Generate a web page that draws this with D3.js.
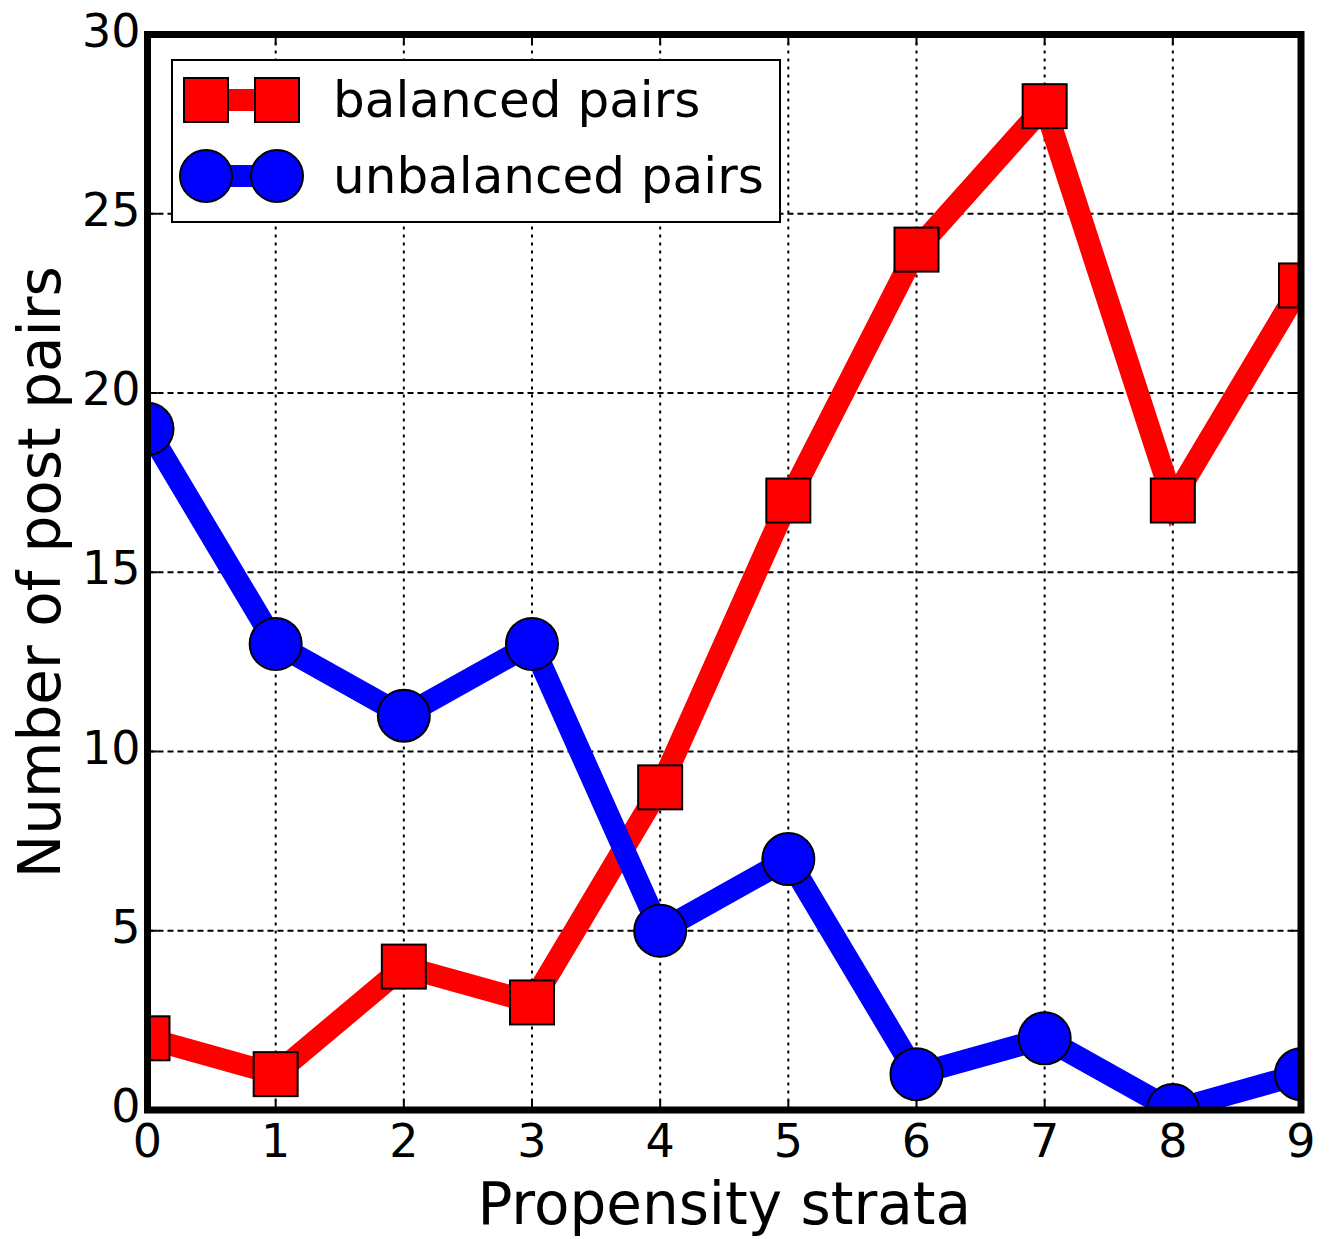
<!DOCTYPE html>
<html>
<head>
<meta charset="utf-8">
<script src="https://cdn.jsdelivr.net/npm/d3@7"></script>
<style>
html,body{margin:0;padding:0;background:#fff;}
svg text{font-family:"DejaVu Sans",sans-serif;fill:#000;}
</style>
</head>
<body>
<svg id="chart" width="1336" height="1239"></svg>
<script>
const strata = [0,1,2,3,4,5,6,7,8,9];
const balanced = [2,1,4,3,9,17,24,28,17,23];
const unbalanced = [19,13,11,13,5,7,1,2,0,1];
const xTicks = [0,1,2,3,4,5,6,7,8,9];
const yTicks = [0,5,10,15,20,25,30];
const seriesNames = ["balanced pairs","unbalanced pairs"];
const xLabel = "Propensity strata";
const yLabel = "Number of post pairs";

const svg = d3.select("#chart");
const L = 147.5, R = 1301, T = 34.5, B = 1110;
const x = d3.scaleLinear().domain([0,9]).range([L,R]);
const y = d3.scaleLinear().domain([0,30]).range([B,T]);

svg.append("defs").append("clipPath").attr("id","clip")
  .append("rect").attr("x",L).attr("y",T).attr("width",R-L).attr("height",B-T);

// grid
const grid = svg.append("g");
grid.selectAll(".vg").data(xTicks).enter().append("line")
  .attr("x1",d=>x(d)).attr("x2",d=>x(d)).attr("y1",T).attr("y2",B)
  .attr("stroke","#000").attr("stroke-width",2).attr("stroke-dasharray","3,5");
grid.selectAll(".hg").data(yTicks).enter().append("line")
  .attr("x1",L).attr("x2",R).attr("y1",d=>y(d)).attr("y2",d=>y(d))
  .attr("stroke","#000").attr("stroke-width",2).attr("stroke-dasharray","6,4");

// ticks (inward)
const tk = svg.append("g").attr("stroke","#000").attr("stroke-width",2);
xTicks.forEach(d=>{
  tk.append("line").attr("x1",x(d)).attr("x2",x(d)).attr("y1",B).attr("y2",B-10);
  tk.append("line").attr("x1",x(d)).attr("x2",x(d)).attr("y1",T).attr("y2",T+10);
});
yTicks.forEach(d=>{
  tk.append("line").attr("x1",L).attr("x2",L+10).attr("y1",y(d)).attr("y2",y(d));
  tk.append("line").attr("x1",R).attr("x2",R-10).attr("y1",y(d)).attr("y2",y(d));
});

const plot = svg.append("g").attr("clip-path","url(#clip)");
const line = d3.line().x((d,i)=>x(strata[i])).y(d=>y(d));

// balanced
plot.append("path").datum(balanced).attr("d",line)
  .attr("fill","none").attr("stroke","#ff0000").attr("stroke-width",22).attr("stroke-linejoin","miter");
plot.selectAll(".sq").data(balanced).enter().append("rect")
  .attr("x",(d,i)=>x(strata[i])-22).attr("y",d=>y(d)-22)
  .attr("width",44).attr("height",44)
  .attr("fill","#ff0000").attr("stroke","#000").attr("stroke-width",2);

// unbalanced
plot.append("path").datum(unbalanced).attr("d",line)
  .attr("fill","none").attr("stroke","#0000ff").attr("stroke-width",22).attr("stroke-linejoin","miter");
plot.selectAll(".ci").data(unbalanced).enter().append("circle")
  .attr("cx",(d,i)=>x(strata[i])).attr("cy",d=>y(d)).attr("r",26)
  .attr("fill","#0000ff").attr("stroke","#000").attr("stroke-width",2);

// frame
svg.append("rect").attr("x",L).attr("y",T).attr("width",R-L).attr("height",B-T)
  .attr("fill","none").attr("stroke","#000").attr("stroke-width",7);

// tick labels
svg.selectAll(".xl").data(xTicks).enter().append("text")
  .attr("x",d=>x(d)).attr("y",B+47).attr("text-anchor","middle")
  .attr("font-size",46).text(d=>d);
svg.selectAll(".yl").data(yTicks).enter().append("text")
  .attr("x",L-7).attr("y",d=>y(d)+12).attr("text-anchor","end")
  .attr("font-size",46).text(d=>d);

// axis labels
svg.append("text").attr("x",(L+R)/2).attr("y",1224).attr("text-anchor","middle")
  .attr("font-size",58).text(xLabel);
svg.append("text").attr("transform",`translate(60,${(T+B)/2}) rotate(-90)`)
  .attr("text-anchor","middle").attr("font-size",58).text(yLabel);

// legend
const lg = svg.append("g");
lg.append("rect").attr("x",172).attr("y",60).attr("width",608).attr("height",162)
  .attr("fill","#fff").attr("stroke","#000").attr("stroke-width",2);
const ly = [100,176];
lg.append("line").attr("x1",206).attr("x2",277).attr("y1",ly[0]).attr("y2",ly[0])
  .attr("stroke","#ff0000").attr("stroke-width",22);
[206,277].forEach(cx=>{
  lg.append("rect").attr("x",cx-22).attr("y",ly[0]-22).attr("width",44).attr("height",44)
    .attr("fill","#ff0000").attr("stroke","#000").attr("stroke-width",2);
});
lg.append("line").attr("x1",206).attr("x2",277).attr("y1",ly[1]).attr("y2",ly[1])
  .attr("stroke","#0000ff").attr("stroke-width",22);
[206,277].forEach(cx=>{
  lg.append("circle").attr("cx",cx).attr("cy",ly[1]).attr("r",26)
    .attr("fill","#0000ff").attr("stroke","#000").attr("stroke-width",2);
});
seriesNames.forEach((n,i)=>{
  lg.append("text").attr("x",333).attr("y",ly[i]+17).attr("font-size",50).text(n);
});
</script>
</body>
</html>
